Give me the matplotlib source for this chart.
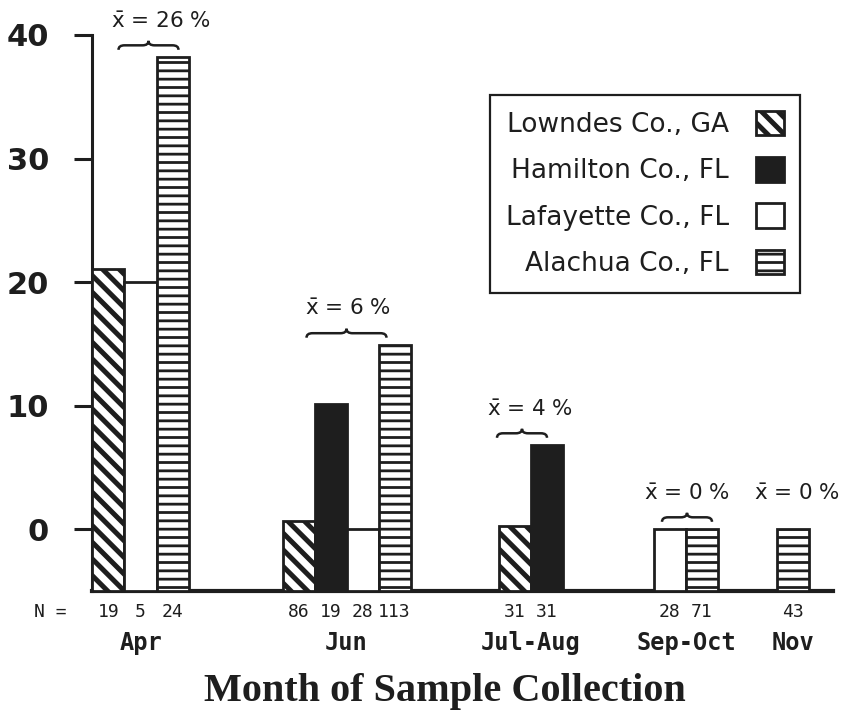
import matplotlib
matplotlib.use("Agg")
import matplotlib.pyplot as plt
import matplotlib.font_manager as fm
from matplotlib.patches import Patch, PathPatch
from matplotlib.path import Path
import numpy as np

# ---------------- data ----------------
months = ["Apr", "Jun", "Jul-Aug", "Sep-Oct", "Nov"]
counties = ["Lowndes Co., GA", "Hamilton Co., FL", "Lafayette Co., FL", "Alachua Co., FL"]
lowndes = [21.1, 0.7, 0.3, None, None]
hamilton = [None, 10.1, 6.8, None, None]
lafayette = [20.0, 0.0, None, 0.0, None]
alachua = [38.2, 14.9, None, 0.0, 0.0]
n_lowndes = [19, 86, 31, None, None]
n_hamilton = [None, 19, 31, None, None]
n_lafayette = [5, 28, None, 28, None]
n_alachua = [24, 113, None, 71, 43]
mean_labels = ["26", "6", "4", "0", "0"]
yticks = [0, 10, 20, 30, 40]

values = [lowndes, hamilton, lafayette, alachua]
counts = [n_lowndes, n_hamilton, n_lafayette, n_alachua]

# ---------------- layout / style ----------------
W, H = 848, 718
DPI = 100
BLACK = "#1e1e1e"
group_left = [92.5, 282.5, 499, 654, 777]
bar_w = 32
brace_span = [(26, 86), (24, 104), (-2, 48), (8, 58), None]
text_dx = [68, 66, 31, 33, 20]
ymin, ymax = -5, 40

avail = {f.name for f in fm.fontManager.ttflist}
narrow = "Liberation Sans Narrow" if "Liberation Sans Narrow" in avail else "DejaVu Sans"
mono = "DejaVu Sans Mono"

styles = [
    dict(facecolor="white", hatch="\\\\", hlw=3.6),
    dict(facecolor=BLACK, hatch=None, hlw=1.0),
    dict(facecolor="white", hatch=None, hlw=1.0),
    dict(facecolor="white", hatch="--", hlw=2.0),
]

fig = plt.figure(figsize=(W / DPI, H / DPI), dpi=DPI)
ax = fig.add_axes([92 / W, 1 - 591 / H, (833 - 92) / W, (591 - 35) / H])
ax.set_xlim(92, 833)
ax.set_ylim(ymin, ymax)

# compute bar positions
positions = [[None] * len(months) for _ in counties]
for g in range(len(months)):
    k = 0
    for c in range(len(counties)):
        if values[c][g] is not None:
            positions[c][g] = group_left[g] + k * bar_w
            k += 1

for c in range(len(counties)):
    xs = [positions[c][g] for g in range(len(months)) if values[c][g] is not None]
    vs = [values[c][g] for g in range(len(months)) if values[c][g] is not None]
    st = styles[c]
    with plt.rc_context({"hatch.linewidth": st["hlw"], "hatch.color": BLACK}):
        bars = ax.bar(xs, [v - ymin for v in vs], bottom=ymin, width=bar_w, align="edge",
                      facecolor=st["facecolor"], edgecolor=BLACK, linewidth=2.0,
                      hatch=st["hatch"], zorder=3)
    for b in bars:
        if hasattr(b, "set_hatch_linewidth"):
            b.set_hatch_linewidth(st["hlw"])

# N labels
xtr = ax.get_xaxis_transform()
ax.text(50, (591 - 612) / (591 - 35), "N =", transform=xtr, ha="center", va="center",
        fontsize=13, family=mono, color=BLACK, clip_on=False)
for c in range(len(counties)):
    for g in range(len(months)):
        if counts[c][g] is not None:
            ax.text(positions[c][g] + bar_w / 2, (591 - 612) / (591 - 35), str(counts[c][g]),
                    transform=xtr, ha="center", va="center", fontsize=13, family=mono,
                    color=BLACK, clip_on=False)

# month labels
for g, m in enumerate(months):
    present = [positions[c][g] for c in range(len(counties)) if positions[c][g] is not None]
    center = (min(present) + max(present) + bar_w) / 2
    ax.text(center, (591 - 643) / (591 - 35), m, transform=xtr, ha="center", va="center",
            fontsize=17, family=mono, weight="bold", color=BLACK, clip_on=False)

# braces and mean labels
ppu = (591 - 35) / (ymax - ymin)  # pixels per data unit


def brace(x0, x1, y, h_px=9, r=6):
    h = h_px / ppu
    hh = h * 0.5
    xm = (x0 + x1) / 2
    verts = [(x0, y), (x0, y + hh), (x0 + r, y + hh),
             (xm - r, y + hh),
             (xm, y + hh), (xm, y + h),
             (xm, y + hh), (xm + r, y + hh),
             (x1 - r, y + hh),
             (x1, y + hh), (x1, y)]
    codes = [Path.MOVETO, Path.CURVE3, Path.CURVE3, Path.LINETO, Path.CURVE3, Path.CURVE3,
             Path.CURVE3, Path.CURVE3, Path.LINETO, Path.CURVE3, Path.CURVE3]
    ax.add_patch(PathPatch(Path(verts, codes), facecolor="none", edgecolor=BLACK,
                           linewidth=1.8, clip_on=False, zorder=4))


for g in range(len(months)):
    top = max(values[c][g] for c in range(len(counties)) if values[c][g] is not None)
    if brace_span[g] is not None:
        brace(group_left[g] + brace_span[g][0], group_left[g] + brace_span[g][1], top + 0.6)
    ax.text(group_left[g] + text_dx[g], top + 2.9, r"$\bar{\mathrm{x}}$ = " + mean_labels[g] + " %",
            ha="center", va="center", fontsize=15.5, color=BLACK, clip_on=False)

# axes styling
for s in ["top", "right"]:
    ax.spines[s].set_visible(False)
ax.spines["left"].set_linewidth(2.2)
ax.spines["bottom"].set_linewidth(3.0)
ax.spines["left"].set_color(BLACK)
ax.spines["bottom"].set_color(BLACK)
ax.set_xticks([])
ax.set_yticks(yticks)
ax.set_yticklabels([str(t) for t in yticks])
ax.tick_params(axis="y", length=13, width=2.2, color=BLACK, pad=18, direction="out")
for lab in ax.get_yticklabels():
    lab.set_family([narrow, "DejaVu Sans"])
    lab.set_weight("bold")
    lab.set_fontsize(25 if narrow != "DejaVu Sans" else 22)
    lab.set_color(BLACK)

# legend
handles = []
for c in range(len(counties)):
    st = styles[c]
    p = Patch(facecolor=st["facecolor"], edgecolor=BLACK, linewidth=2.0, hatch=st["hatch"],
              label=counties[c])
    handles.append(p)
leg = ax.legend(handles=handles, loc="upper right", bbox_to_anchor=(800 / W, 1 - 95 / H),
                bbox_transform=fig.transFigure, markerfirst=False, frameon=True, fancybox=False,
                edgecolor=BLACK, fontsize=19, handlelength=1.05, handleheight=1.05,
                handletextpad=1.05, labelspacing=0.72, borderpad=0.6, borderaxespad=0,
                framealpha=1)
leg.get_frame().set_linewidth(1.6)
for t in leg.get_texts():
    t.set_color(BLACK)
for p, st in zip(leg.get_patches(), styles):
    if hasattr(p, "set_hatch_linewidth"):
        p.set_hatch_linewidth(st["hlw"])

# title
fig.text(445 / W, 1 - 692 / H, "Month of Sample Collection", ha="center", va="center",
         fontsize=29, family=["Liberation Serif", "DejaVu Serif"], weight="bold", color=BLACK)

fig.savefig("out.png", dpi=DPI, facecolor="white")
